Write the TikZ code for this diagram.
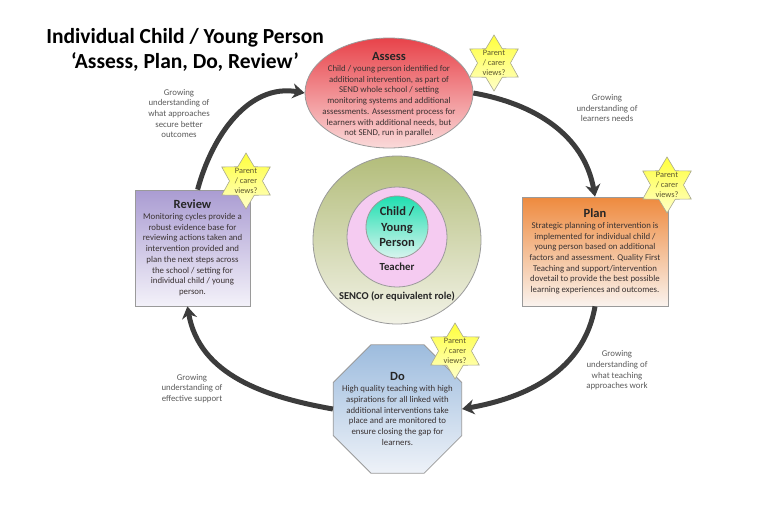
\documentclass[tikz,border=0pt]{standalone}
\usepackage{fontspec}
\setmainfont{Carlito}
\usepackage{tikz}
\usetikzlibrary{shapes.geometric, positioning, arrows.meta}

\definecolor{boxline}{HTML}{9A9A9A}
\definecolor{bodytext}{HTML}{3A3232}
\definecolor{labelgrey}{HTML}{5A5A5A}
\definecolor{arrowgrey}{HTML}{3C3C3C}
\definecolor{assesstop}{HTML}{E8434A}
\definecolor{assessbottom}{HTML}{FADADA}
\definecolor{plantop}{HTML}{EE8A3E}
\definecolor{planbottom}{HTML}{FAF3EE}
\definecolor{reviewtop}{HTML}{AA9CD2}
\definecolor{reviewbottom}{HTML}{F3F1F9}
\definecolor{dotop}{HTML}{9DBCDE}
\definecolor{dobottom}{HTML}{EEF2F8}
\definecolor{sencotop}{HTML}{B3BD7B}
\definecolor{sencobottom}{HTML}{F2F2E6}
\definecolor{teacherpink}{HTML}{F5CBF1}
\definecolor{childtop}{HTML}{1EDFB0}
\definecolor{childbottom}{HTML}{D8F4EE}
\definecolor{staryellow}{HTML}{FFFF3C}
\definecolor{starpale}{HTML}{FFFFC8}
\definecolor{starline}{HTML}{A8A890}
\definecolor{startext}{HTML}{5E5830}

\begin{document}
\begin{tikzpicture}[x=1pt, y=1pt, on grid,
    box/.style={draw=boxline, line width=0.8pt, inner sep=0pt},
    boxtext/.style={align=center, text=bodytext, font=\fontsize{8.8}{10.7}\selectfont},
    parent/.style={star, star points=6, star point ratio=1.7, draw=starline, line width=0.6pt,
        top color=staryellow, bottom color=starpale, minimum size=56pt, inner sep=0pt,
        label={[align=center, text=startext, font=\fontsize{8.3}{10}\selectfont]center:Parent\\/ carer\\views?}},
    cyclearrow/.style={-{Stealth[length=12pt, width=15pt]}, line width=5pt, arrowgrey},
    growlabel/.style={align=center, text=labelgrey, font=\fontsize{8.8}{10.7}\selectfont}]

    \useasboundingbox (0,0) rectangle (781,-512);

    \node[font=\fontsize{21.5}{25}\selectfont\bfseries, align=center] (title) at (185,-50)
        {Individual Child / Young Person\\‘Assess, Plan, Do, Review’};

    \node[box, ellipse, minimum width=168pt, minimum height=110pt,
        top color=assesstop, bottom color=assessbottom] (assess) at (389,-93) {};
    \node[boxtext] (assesstext) at ([yshift=-2pt]assess.center)
        {{\fontsize{12.5}{14}\selectfont\bfseries\color{black!85} Assess}\\
        Child / young person identified for\\
        additional intervention, as part of\\
        SEND whole school / setting\\
        monitoring systems and additional\\
        assessments. Assessment process for\\
        learners with additional needs, but\\
        not SEND, run in parallel.};

    \node[box, rectangle, minimum width=146pt, minimum height=109pt,
        top color=plantop, bottom color=planbottom, boxtext] (plan) at (595,-251.5)
        {{\fontsize{12.5}{14}\selectfont\bfseries\color{black!85} Plan}\\
        Strategic planning of intervention is\\
        implemented for individual child /\\
        young person based on additional\\
        factors and assessment. Quality First\\
        Teaching and support/intervention\\
        dovetail to provide the best possible\\
        learning experiences and outcomes.};

    \node[box, rectangle, minimum width=115pt, minimum height=116pt,
        top color=reviewtop, bottom color=reviewbottom, boxtext] (review) at (192.5,-248)
        {{\fontsize{12.5}{14}\selectfont\bfseries\color{black!85} Review}\\
        Monitoring cycles provide a\\
        robust evidence base for\\
        reviewing actions taken and\\
        intervention provided and\\
        plan the next steps across\\
        the school / setting for\\
        individual child / young\\
        person.};

    \node[box, regular polygon, regular polygon sides=8, minimum size=139pt,
        top color=dotop, bottom color=dobottom] (do) at (397.5,-409) {};
    \node[boxtext] (dotext) at (do.center)
        {{\fontsize{12.5}{14}\selectfont\bfseries\color{black!85} Do}\\
        High quality teaching with high\\
        aspirations for all linked with\\
        additional interventions take\\
        place and are monitored to\\
        ensure closing the gap for\\
        learners.};

    \node[box, circle, minimum size=168pt, top color=sencotop, bottom color=sencobottom] (senco) at (397,-240) {};
    \node[box, circle, minimum size=100pt, fill=teacherpink] (teacher) at (397,-237) {};
    \node[box, circle, minimum size=62pt, top color=childtop, bottom color=childbottom,
        align=center, text=black!85, font=\fontsize{12.5}{15.5}\selectfont\bfseries] (child) at (397,-227)
        {Child /\\Young\\Person};
    \node[text=black!85, font=\fontsize{10.8}{12}\selectfont\bfseries] (teacherlabel) [below=40pt of child] {Teacher};
    \node[text=black!85, font=\fontsize{10.5}{12}\selectfont\bfseries] (sencolabel) [below=69pt of child] {SENCO (or equivalent role)};

    \node[parent] (assessstar) [above right=30pt and 105pt of assess] {};
    \node[parent] (planstar) [above right=66.5pt and 72pt of plan] {};
    \node[parent] (reviewstar) [above right=67pt and 53.5pt of review] {};
    \node[parent] (dostar) [above right=58pt and 57.5pt of do] {};

    \draw[cyclearrow] (review.85) to[out=75, in=170] (assess.west);
    \draw[cyclearrow] (assess.east) to[out=-10, in=100] (plan.north);
    \draw[cyclearrow] (plan.south) to[out=-100, in=10] (do.east);
    \draw[cyclearrow] (do.west) to[out=170, in=-80] (review.265);

    \node[growlabel] (approaches) at (179,-113.5) {Growing\\understanding of\\what approaches\\secure better\\outcomes};
    \node[growlabel] (needs) at (607,-108) {Growing\\understanding of\\learners needs};
    \node[growlabel] (teaching) at (617,-370.5) {Growing\\understanding of\\what teaching\\approaches work};
    \node[growlabel] (support) at (192,-388.5) {Growing\\understanding of\\effective support};
\end{tikzpicture}
\end{document}
